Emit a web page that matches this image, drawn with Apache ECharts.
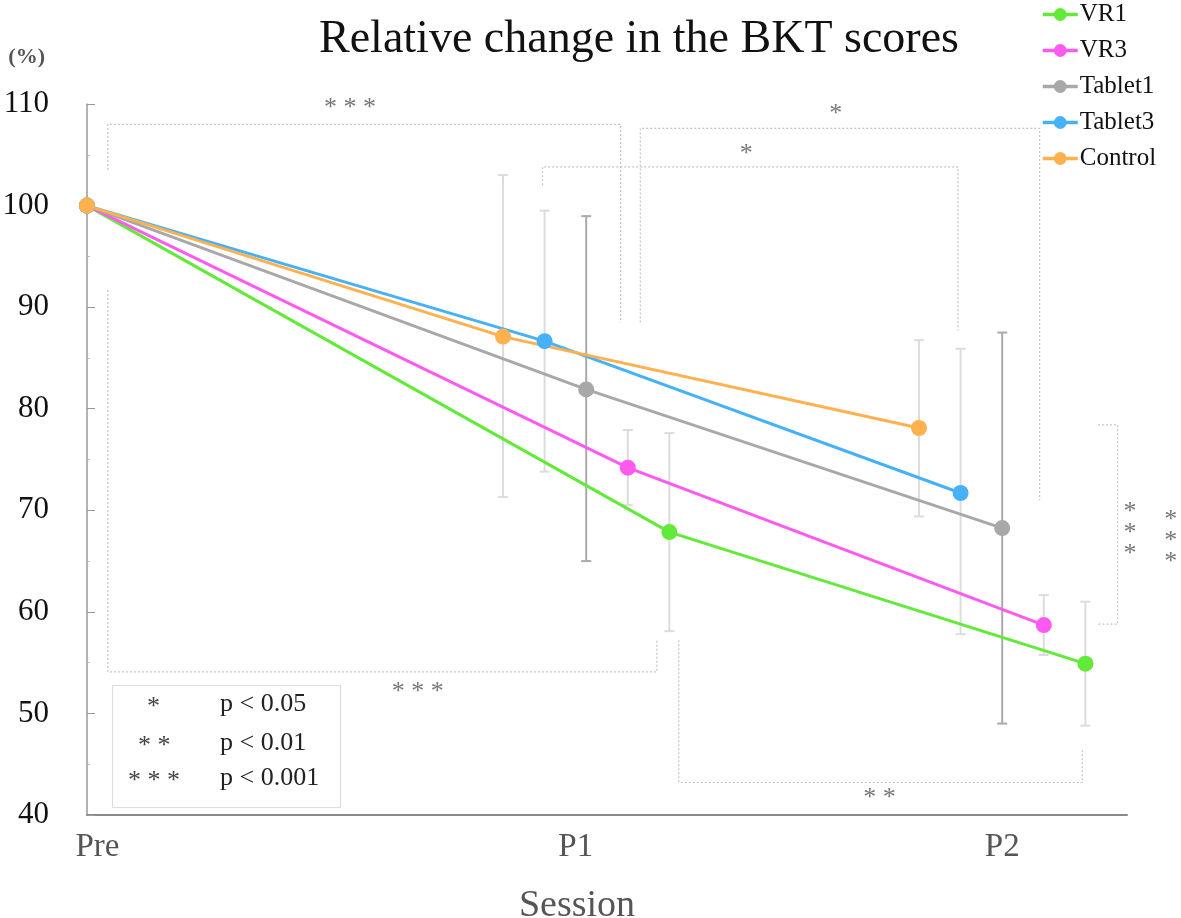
<!DOCTYPE html>
<html>
<head>
<meta charset="utf-8">
<script src="https://cdn.jsdelivr.net/npm/echarts@6/dist/echarts.min.js"></script>
<style>
  html, body { margin: 0; padding: 0; background: #fff; overflow: hidden; }
  #myCharts { width: 1181px; height: 918px; }
</style>
</head>
<body>
<div id="myCharts"></div>
<script>
// x positions are in axis units (0..100), groups are offset so bars don't overlap
const tickPositions = [1, 47, 88];
const tickLabels = ["Pre", "P1", "P2"];

const seriesNames = ["VR1", "VR3", "Tablet1", "Tablet3", "Control"];
const seriesColors = ["#62ea38", "#ff5af0", "#a8a8a8", "#47b1f7", "#ffb14e"];

const vr1X = [0, 56, 96];
const vr1Y = [100, 67.85, 54.9];
const vr1Lo = [null, 58.1, 48.8];
const vr1Hi = [null, 77.6, 61.0];

const vr3X = [0, 52, 92];
const vr3Y = [100, 74.2, 58.7];
const vr3Lo = [null, 70.5, 55.75];
const vr3Hi = [null, 77.9, 61.65];

const tab1X = [0, 48, 88];
const tab1Y = [100, 81.9, 68.25];
const tab1Lo = [null, 65.0, 49.0];
const tab1Hi = [null, 98.96, 87.5];

const tab3X = [0, 44, 84];
const tab3Y = [100, 86.65, 71.7];
const tab3Lo = [null, 73.8, 57.8];
const tab3Hi = [null, 99.5, 85.9];

const ctrlX = [0, 40, 80];
const ctrlY = [100, 87.1, 78.1];
const ctrlLo = [null, 71.3, 69.4];
const ctrlHi = [null, 103.0, 86.75];

// significance brackets (polylines in axis units) and their labels
const bracketLines = [
  [[2, 103.5], [2, 108.0], [51.3, 108.0], [51.3, 88.5]],
  [[2, 91.7], [2, 54.1], [54.8, 54.1], [54.8, 57.2]],
  [[53.2, 88.5], [53.2, 107.6], [91.6, 107.6], [91.6, 71.0]],
  [[43.8, 102.0], [43.8, 103.8], [83.75, 103.8], [83.75, 87.7]],
  [[56.9, 57.2], [56.9, 43.2], [95.7, 43.2], [95.7, 46.6]],
  [[97.2, 78.4], [99.1, 78.4], [99.1, 58.8], [97.2, 58.8]],
  [[100.8, 78.6], [103.0, 78.6], [103.0, 55.0], [101.4, 55.0]]
];
const bracketTexts = [
  [25.3, 109.6, "* * *"],
  [31.8, 52.1, "* * *"],
  [72.0, 109.0, "*"],
  [63.4, 105.1, "*"],
  [76.2, 41.7, "* *"],
  [100.3, 67.7, "*\n*\n*"],
  [104.2, 67.0, "*\n*\n*"]
];

const serif = "Liberation Serif";

function pack(xs, ys) {
  return xs.map((x, i) => [x, ys[i]]);
}
function packErr(xs, lo, hi) {
  const out = [];
  xs.forEach((x, i) => {
    if (lo[i] != null) out.push([x, lo[i], hi[i]]);
  });
  return out;
}

const lineData = [
  pack(vr1X, vr1Y), pack(vr3X, vr3Y), pack(tab1X, tab1Y),
  pack(tab3X, tab3Y), pack(ctrlX, ctrlY)
];
const errData = [
  packErr(vr1X, vr1Lo, vr1Hi), packErr(vr3X, vr3Lo, vr3Hi),
  packErr(tab1X, tab1Lo, tab1Hi), packErr(tab3X, tab3Lo, tab3Hi),
  packErr(ctrlX, ctrlLo, ctrlHi)
];
const errColors = ["#dcdcdc", "#dcdcdc", "#aaaaaa", "#dcdcdc", "#dcdcdc"];

function errRender(color) {
  return function (params, api) {
    const x = api.value(0);
    const lo = api.coord([x, api.value(1)]);
    const hi = api.coord([x, api.value(2)]);
    const st = { stroke: color, lineWidth: 2 };
    return {
      type: "group",
      children: [
        { type: "line", shape: { x1: lo[0], y1: lo[1], x2: hi[0], y2: hi[1] }, style: st },
        { type: "line", shape: { x1: hi[0] - 5, y1: hi[1], x2: hi[0] + 5, y2: hi[1] }, style: st },
        { type: "line", shape: { x1: lo[0] - 5, y1: lo[1], x2: lo[0] + 5, y2: lo[1] }, style: st }
      ]
    };
  };
}

const series = [];
// bracket lines first (behind)
bracketLines.forEach((pts) => {
  series.push({
    type: "line",
    data: pts,
    symbol: "none",
    clip: false,
    silent: true,
    lineStyle: { color: "#c4c4c4", width: 1.2, type: [2, 2] },
    z: 1
  });
});
series.push({
  type: "scatter",
  data: bracketTexts,
  symbolSize: 0,
  clip: false,
  silent: true,
  label: {
    show: true,
    position: "inside",
    formatter: (p) => p.value[2],
    color: "#555",
    fontFamily: serif,
    fontSize: 26,
    lineHeight: 21
  },
  z: 2
});
errData.forEach((d, i) => {
  series.push({
    type: "custom",
    data: d,
    renderItem: errRender(errColors[i]),
    silent: true,
    z: 3
  });
});
lineData.forEach((d, i) => {
  series.push({
    name: seriesNames[i],
    type: "line",
    data: d,
    symbol: "circle",
    symbolSize: 16,
    clip: false,
    color: seriesColors[i],
    lineStyle: { width: 3, color: seriesColors[i] },
    itemStyle: { color: seriesColors[i] },
    z: 5
  });
});

const myCharts = echarts.init(document.getElementById("myCharts"));
const options = {
  animation: false,
  title: {
    text: "Relative change in the BKT scores",
    left: 634,
    top: 12,
    textAlign: "center",
    textStyle: { fontFamily: serif, fontSize: 46, fontWeight: "normal", color: "#111" }
  },
  legend: {
    data: seriesNames,
    orient: "vertical",
    left: 1036,
    top: -3,
    itemWidth: 35,
    itemHeight: 16,
    itemGap: 11,
    textStyle: { fontFamily: serif, fontSize: 25, color: "#111", padding: [0, 0, 0, -3] },
    lineStyle: { width: 3.5 }
  },
  grid: { left: 87, right: 54, top: 104, height: 711, outerBoundsMode: "none", containLabel: false },
  xAxis: {
    type: "value",
    min: 0,
    max: 100,
    interval: 1,
    name: "Session",
    nameLocation: "middle",
    nameGap: 72,
    nameTextStyle: { fontFamily: serif, fontSize: 38, color: "#555", padding: [0, 60, 0, 0] },
    axisLine: { lineStyle: { color: "#8a8a8a", width: 2 } },
    axisTick: { show: false },
    splitLine: { show: false },
    axisLabel: {
      interval: 0,
      margin: 16,
      fontFamily: serif,
      fontSize: 33,
      color: "#555",
      formatter: (v) => {
        const k = tickPositions.indexOf(v);
        return k >= 0 ? tickLabels[k] : "";
      }
    }
  },
  yAxis: {
    type: "value",
    min: 40,
    max: 110,
    interval: 10,
    name: "(%)",
    nameGap: 36,
    nameTextStyle: { fontFamily: serif, fontSize: 22, fontWeight: "bold", color: "#555", align: "right", padding: [0, 42, 0, 0] },
    axisLine: { show: true, lineStyle: { color: "#999", width: 1.5 } },
    axisTick: { show: true, inside: true, length: 8, lineStyle: { color: "#999" } },
    minorTick: { show: true, splitNumber: 2, length: 3, lineStyle: { color: "#bbb" } },
    splitLine: { show: false },
    axisLabel: { margin: 38, fontFamily: serif, fontSize: 31, color: "#111" }
  },
  graphic: [
    {
      type: "rect",
      left: 110,
      top: 683,
      shape: { width: 228, height: 122 },
      style: { fill: "none", stroke: "#dddddd", lineWidth: 1.2 },
      z: 10
    },
    { type: "text", left: 147, top: 694, style: { text: "*", font: "26px " + serif, fill: "#444" } },
    { type: "text", left: 138, top: 733, style: { text: "* *", font: "26px " + serif, fill: "#444" } },
    { type: "text", left: 128, top: 768, style: { text: "* * *", font: "26px " + serif, fill: "#444" } },
    { type: "text", left: 220, top: 691, style: { text: "p < 0.05", font: "26px " + serif, fill: "#222" } },
    { type: "text", left: 220, top: 730, style: { text: "p < 0.01", font: "26px " + serif, fill: "#222" } },
    { type: "text", left: 220, top: 765, style: { text: "p < 0.001", font: "26px " + serif, fill: "#222" } }
  ],
  series: series
};
myCharts.setOption(options);
</script>
</body>
</html>
